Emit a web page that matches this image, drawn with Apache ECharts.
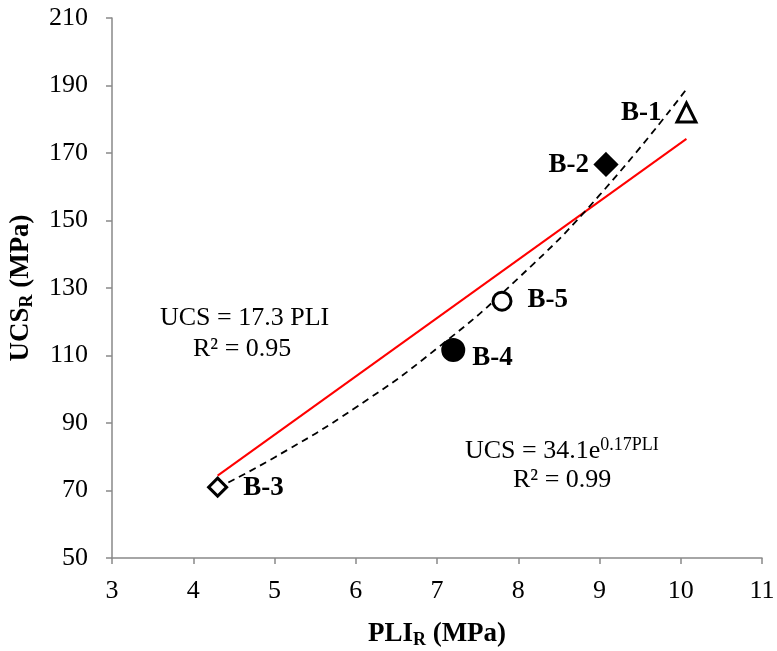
<!DOCTYPE html>
<html><head><meta charset="utf-8">
<script src="https://cdn.jsdelivr.net/npm/echarts@6/dist/echarts.min.js"></script>
<style>html,body{margin:0;padding:0;background:#fff}#c{width:777px;height:651px}</style>
</head><body><div id="c"></div>
<script>
// Data
const names = ['B-1', 'B-2', 'B-3', 'B-4', 'B-5'];
const pli = [10.07, 9.08, 4.3, 7.2, 7.8];
const ucs = [182.0, 166.6, 71.0, 111.6, 126.1];
// Linear trendline (UCS = 17.3 PLI) endpoints
const linX = [4.3, 10.07];
const linY = [74.4, 174.2];
// Exponential trendline (UCS = 34.1e^0.17PLI)
const expX = [4.3, 5, 6, 7, 8, 9, 10.07];
const expY = [70.8, 79.8, 94.6, 112.1, 132.9, 157.5, 188.9];
const xTicks = [3, 4, 5, 6, 7, 8, 9, 10, 11];
const yTicks = [50, 70, 90, 110, 130, 150, 170, 190, 210];

const F = 'Liberation Serif, Times New Roman, serif';
const pointStyles = [
  {symbol: 'triangle', size: 19, fill: '#fff', pos: 'left', off: [-9, 1]},
  {symbol: 'diamond', size: 21, fill: '#000', pos: 'left', off: [0, 1]},
  {symbol: 'diamond', size: 18, fill: '#fff', pos: 'right', off: [10, 1]},
  {symbol: 'circle', size: 21, fill: '#000', pos: 'right', off: [2, 8]},
  {symbol: 'circle', size: 18, fill: '#fff', pos: 'right', off: [10, -1]}
];
const pts = names.map((n, i) => {
  const s = pointStyles[i];
  return {
    name: n, value: [pli[i], ucs[i]], symbol: s.symbol, symbolSize: s.size,
    itemStyle: {color: s.fill, borderColor: '#000', borderWidth: 3, opacity: 1},
    label: {show: true, formatter: n, position: s.pos, offset: s.off,
      fontFamily: F, fontWeight: 'bold', fontSize: 27, color: '#000'}
  };
});

const chart = echarts.init(document.getElementById('c'));
const axisCommon = {
  axisLine: {show: true, lineStyle: {color: '#898989', width: 1.5}},
  axisTick: {show: true, inside: false, length: 6, lineStyle: {color: '#898989', width: 1.5}},
  splitLine: {show: false},
  axisLabel: {fontFamily: F, fontSize: 26, color: '#000'}
};
const titleRich = {
  b: {fontFamily: F, fontWeight: 'bold', fontSize: 27, color: '#000'},
  s: {fontFamily: F, fontWeight: 'bold', fontSize: 18, color: '#000', verticalAlign: 'bottom', padding: [12, 0, 0, 0]}
};
chart.setOption({
  animation: false,
  backgroundColor: '#fff',
  grid: {left: 112, right: 15, top: 18, bottom: 93, containLabel: false, outerBoundsMode: 'none'},
  xAxis: Object.assign({}, axisCommon, {
    type: 'value', min: xTicks[0], max: xTicks[xTicks.length - 1], interval: 1,
    axisLabel: Object.assign({}, axisCommon.axisLabel, {margin: 20}),
    name: '{b|PLI}{s|R}{b| (MPa)}', nameLocation: 'middle', nameGap: 61,
    nameTextStyle: {rich: titleRich}
  }),
  yAxis: Object.assign({}, axisCommon, {
    type: 'value', min: yTicks[0], max: yTicks[yTicks.length - 1], interval: 20,
    axisLabel: Object.assign({}, axisCommon.axisLabel, {margin: 24}),
    name: '{b|UCS}{s|R}{b| (MPa)}', nameLocation: 'middle', nameGap: 76, nameRotate: 90,
    nameTextStyle: {rich: titleRich}
  }),
  series: [
    {type: 'line', data: linX.map((x, i) => [x, linY[i]]), showSymbol: false, symbol: 'none',
      lineStyle: {color: '#ff0000', width: 2}, z: 2, silent: true},
    {type: 'line', data: expX.map((x, i) => [x, expY[i]]), showSymbol: false, symbol: 'none', smooth: true,
      lineStyle: {color: '#000', width: 1.8, type: [7, 5]}, z: 3, silent: true},
    {type: 'scatter', data: pts, z: 4}
  ],
  graphic: [
    {type: 'text', left: 160, top: 305, style: {text: 'UCS = 17.3 PLI', font: '26px ' + F, fill: '#000'}},
    {type: 'text', left: 193, top: 336, style: {text: 'R² = 0.95', font: '26px ' + F, fill: '#000'}},
    {type: 'text', left: 465, top: 436, style: {
      text: '{n|UCS = 34.1e}{p|0.17PLI}',
      rich: {n: {fontFamily: F, fontSize: 26, fill: '#000'}, p: {fontFamily: F, fontSize: 18, fill: '#000', verticalAlign: 'top', padding: [0, 0, 12, 0]}}
    }},
    {type: 'text', left: 513, top: 467, style: {text: 'R² = 0.99', font: '26px ' + F, fill: '#000'}}
  ]
});
</script></body></html>
